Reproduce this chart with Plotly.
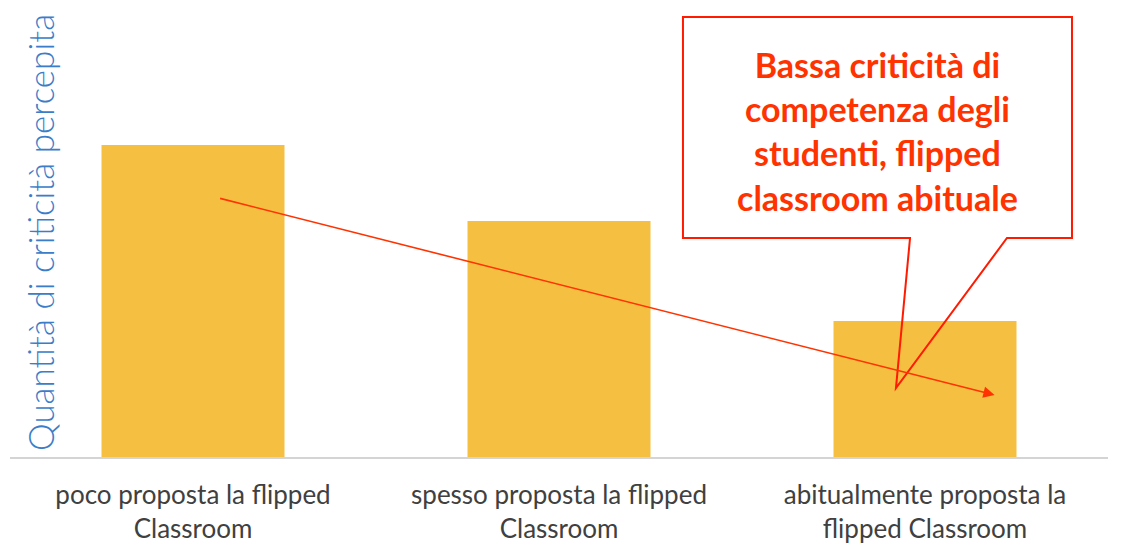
import plotly.graph_objects as go

# categories and estimated values (arbitrary units)
categorie = [
    "poco proposta la flipped<br>Classroom",
    "spesso proposta la flipped<br>Classroom",
    "abitualmente proposta la<br>flipped Classroom",
]
criticita = [312, 236, 136]

# page body adds an 8px offset, so the figure is laid out 8px up/left
OFF = 8
W, H = 1122 - OFF, 550 - OFF
ML, MR, MT, MB = 10 - OFF, 14, 0, 93
PW, PH = W - ML - MR, H - MT - MB


def px(x, y):
    # screen pixel position -> paper coords, for the decorations only
    x, y = x - OFF, y - OFF
    return (x - ML) / PW, (H - MB - y) / PH


fig = go.Figure(go.Bar(
    x=[0, 1, 2],
    y=criticita,
    marker=dict(color="#f5bf42", line=dict(width=0)),
    width=0.5,
    hoverinfo="skip",
))

fig.update_layout(
    width=W, height=H,
    margin=dict(l=ML, r=MR, t=MT, b=MB),
    plot_bgcolor="white", paper_bgcolor="white",
    showlegend=False,
    font=dict(family="Lato, sans-serif"),
)
fig.update_xaxes(
    range=[-0.5, 2.5],
    tickvals=[0, 1, 2], ticktext=categorie,
    tickfont=dict(size=26, color="#404040"),
    ticks="outside", ticklen=14, tickcolor="white",
    showline=True, linecolor="#d4d4d4", linewidth=2,
    showgrid=False, zeroline=False,
)
fig.update_yaxes(range=[0, PH], visible=False)

# y title, rotated
fig.add_annotation(
    text="Quantità di criticità percepita",
    x=px(40, 0)[0], y=px(0, 233)[1], xref="paper", yref="paper",
    xanchor="center", yanchor="middle",
    textangle=-90, showarrow=False,
    font=dict(size=35, color="#3b7dc8", family="Lato Light, Lato, sans-serif"),
)

# trend arrow
fig.add_annotation(
    x=2.19, y=62, ax=0.07, ay=259,
    xref="x", yref="y", axref="x", ayref="y",
    text="", showarrow=True, arrowhead=2, arrowsize=1.4,
    arrowwidth=1.6, arrowcolor="#ff3300",
)

# callout box with pointer
pts = [(683, 17), (1072, 17), (1072, 238), (1007, 238),
       (896, 388), (910, 238), (683, 238)]
path = "M " + " L ".join(f"{px(a, b)[0]:.4f},{px(a, b)[1]:.4f}" for a, b in pts) + " Z"
fig.add_shape(type="path", path=path, xref="paper", yref="paper",
              line=dict(color="#ff1a00", width=2), fillcolor="rgba(0,0,0,0)")

fig.add_annotation(
    text="<b>Bassa criticità di<br>competenza degli<br>studenti, flipped<br>classroom abituale</b>",
    x=px(877, 0)[0], y=px(0, 131)[1], xref="paper", yref="paper",
    xanchor="center", yanchor="middle",
    showarrow=False, align="center",
    font=dict(size=34, color="#ff3300", family="Lato, sans-serif"),
)

fig.write_html("out.html")
